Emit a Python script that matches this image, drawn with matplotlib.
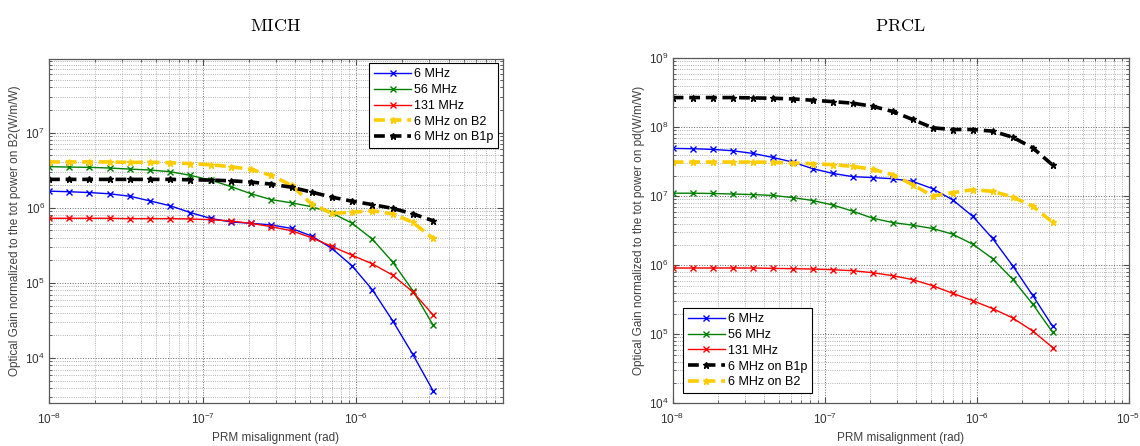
import matplotlib
matplotlib.use('Agg')
import numpy as np
from matplotlib import pyplot as plt
from matplotlib.ticker import LogLocator, LogFormatterSciNotation, NullFormatter

plt.rcParams['font.family'] = ['Liberation Sans', 'DejaVu Sans']
plt.rcParams['mathtext.fontset'] = 'custom'
plt.rcParams['mathtext.rm'] = 'Liberation Sans'
plt.rcParams['mathtext.it'] = 'Liberation Sans:italic'
plt.rcParams['mathtext.bf'] = 'Liberation Sans:bold'

# PRM misalignment steps (rad)
x_rad = [1.000e-8, 1.353e-8, 1.833e-8, 2.481e-8, 3.360e-8, 4.548e-8, 6.158e-8,
         8.338e-8, 1.129e-7, 1.528e-7, 2.069e-7, 2.801e-7, 3.793e-7, 5.135e-7,
         6.952e-7, 9.412e-7, 1.274e-6, 1.725e-6, 2.336e-6, 3.162e-6]

# MICH optical gains (W/m/W)
mich_6 = [1.66e6, 1.63e6, 1.59e6, 1.53e6, 1.42e6, 1.23e6, 1.06e6, 8.6e5, 7.2e5, 6.46e5,
          6.2e5, 5.9e5, 5.3e5, 4.19e5, 2.87e5, 1.68e5, 8.1e4, 3.15e4, 1.12e4, 3.69e3]
mich_56 = [3.51e6, 3.47e6, 3.44e6, 3.37e6, 3.26e6, 3.17e6, 3.01e6, 2.69e6, 2.33e6, 1.91e6,
           1.53e6, 1.28e6, 1.16e6, 1.03e6, 8.5e5, 6.2e5, 3.82e5, 1.90e5, 7.9e4, 2.76e4]
mich_131 = [7.23e5, 7.23e5, 7.23e5, 7.23e5, 7.15e5, 7.15e5, 7.15e5, 7.08e5, 6.93e5, 6.65e5,
            6.19e5, 5.59e5, 4.94e5, 3.98e5, 3.05e5, 2.33e5, 1.79e5, 1.27e5, 7.6e4, 3.76e4]
mich_b2 = [4.06e6, 4.06e6, 4.06e6, 4.06e6, 4.01e6, 4.01e6, 3.97e6, 3.85e6, 3.73e6, 3.51e6,
           3.23e6, 2.69e6, 1.98e6, 1.12e6, 8.4e5, 8.7e5, 9.1e5, 8.3e5, 6.4e5, 3.90e5]
mich_b1p = [2.38e6, 2.38e6, 2.38e6, 2.38e6, 2.38e6, 2.38e6, 2.38e6, 2.35e6, 2.33e6, 2.28e6,
            2.19e6, 2.06e6, 1.87e6, 1.61e6, 1.38e6, 1.22e6, 1.10e6, 9.8e5, 8.3e5, 6.7e5]

# PRCL optical gains (W/m/W)
prcl_6 = [4.95e7, 4.90e7, 4.79e7, 4.58e7, 4.19e7, 3.67e7, 3.14e7, 2.52e7, 2.15e7, 1.93e7,
          1.87e7, 1.80e7, 1.65e7, 1.29e7, 8.9e6, 5.15e6, 2.45e6, 9.9e5, 3.68e5, 1.31e5]
prcl_56 = [1.11e7, 1.11e7, 1.10e7, 1.08e7, 1.06e7, 1.03e7, 9.6e6, 8.7e6, 7.5e6, 6.1e6,
           4.82e6, 4.17e6, 3.82e6, 3.42e6, 2.83e6, 2.03e6, 1.25e6, 6.3e5, 2.75e5, 1.07e5]
prcl_131 = [9.15e5, 9.15e5, 9.15e5, 9.15e5, 9.15e5, 9.04e5, 8.94e5, 8.83e5, 8.64e5, 8.36e5,
            7.82e5, 7.08e5, 6.20e5, 5.07e5, 3.93e5, 3.08e5, 2.36e5, 1.73e5, 1.12e5, 6.44e4]
prcl_b1p = [2.70e8, 2.70e8, 2.70e8, 2.70e8, 2.67e8, 2.64e8, 2.58e8, 2.47e8, 2.36e8, 2.24e8,
            2.02e8, 1.70e8, 1.30e8, 9.85e7, 9.3e7, 9.3e7, 8.8e7, 7.2e7, 5.06e7, 2.84e7]
prcl_b2 = [3.14e7, 3.14e7, 3.14e7, 3.14e7, 3.14e7, 3.11e7, 3.04e7, 2.97e7, 2.88e7, 2.72e7,
           2.46e7, 2.06e7, 1.48e7, 1.01e7, 1.13e7, 1.25e7, 1.18e7, 9.8e6, 7.2e6, 4.22e6]

YELLOW = '#ffcc00'
GREEN = '#008000'


def solid(ax, y, color, label):
    ax.plot(x_rad, y, '-x', color=color, lw=1.0, ms=4, mew=1.0, label=label)


def dashed(ax, y, color, label):
    ax.plot(x_rad, y, '--', color=color, lw=2.6, dashes=(3, 1.6),
            marker='*', ms=5, label=label)


def style_axes(ax, ylabel):
    ax.set_xscale('log')
    ax.set_yscale('log')
    for loc_axis in (ax.xaxis, ax.yaxis):
        loc_axis.set_major_locator(LogLocator(base=10))
        loc_axis.set_minor_locator(LogLocator(base=10, subs=np.arange(2, 10)))
        loc_axis.set_major_formatter(LogFormatterSciNotation())
        loc_axis.set_minor_formatter(NullFormatter())
    ax.grid(True, which='major', ls=':', lw=0.7, color='0.4')
    ax.grid(True, which='minor', ls=':', lw=0.6, color='0.6')
    ax.tick_params(which='both', direction='in', top=True, right=True,
                   labelsize=8.5, color='0.3', labelcolor='0.2')
    ax.tick_params(axis='x', which='major', pad=6)
    ax.tick_params(axis='y', which='major', pad=3)
    ax.tick_params(which='major', length=4)
    ax.tick_params(which='minor', length=2)
    for sp in ax.spines.values():
        sp.set_color('0.35')
        sp.set_linewidth(0.9)
    ax.set_xlabel('PRM misalignment (rad)', fontsize=8.5, color='0.25', labelpad=4)
    ax.set_ylabel(ylabel, fontsize=8.5, color='0.25', labelpad=3)


fig = plt.figure(figsize=(11.4, 4.46), dpi=100)

# MICH
ax1 = fig.add_axes([0.043, 0.0957, 0.398, 0.772])
solid(ax1, mich_6, 'blue', '6 MHz')
solid(ax1, mich_56, GREEN, '56 MHz')
solid(ax1, mich_131, 'red', '131 MHz')
dashed(ax1, mich_b2, YELLOW, '6 MHz on B2')
dashed(ax1, mich_b1p, 'black', '6 MHz on B1p')
style_axes(ax1, 'Optical Gain normalized to the tot power on B2(W/m/W)')
ax1.set_xlim(1e-8, 9e-6)
ax1.set_ylim(2.5e3, 9.5e7)
ax1.set_xticks([1e-8, 1e-7, 1e-6])
ax1.set_yticks([1e4, 1e5, 1e6, 1e7])
ax1.set_title(r'$\mathrm{MICH}$', fontsize=13, math_fontfamily='cm', pad=20)
leg1 = ax1.legend(loc='upper right', fontsize=9, handlelength=3.0, borderaxespad=0.35,
                  fancybox=False, framealpha=1, edgecolor='black', labelspacing=0.3,
                  handletextpad=0.2)
leg1.get_frame().set_linewidth(0.8)

# PRCL
ax2 = fig.add_axes([0.590, 0.0957, 0.400, 0.7735])
solid(ax2, prcl_6, 'blue', '6 MHz')
solid(ax2, prcl_56, GREEN, '56 MHz')
solid(ax2, prcl_131, 'red', '131 MHz')
dashed(ax2, prcl_b1p, 'black', '6 MHz on B1p')
dashed(ax2, prcl_b2, YELLOW, '6 MHz on B2')
style_axes(ax2, 'Optical Gain normalized to the tot power on pd(W/m/W)')
ax2.set_xlim(1e-8, 1e-5)
ax2.set_ylim(1e4, 1e9)
ax2.set_xticks([1e-8, 1e-7, 1e-6, 1e-5])
ax2.set_yticks([1e4, 1e5, 1e6, 1e7, 1e8, 1e9])
ax2.set_title(r'$\mathrm{PRCL}$', fontsize=13, math_fontfamily='cm', pad=20)
leg2 = ax2.legend(loc='lower left', fontsize=9, handlelength=3.0, borderaxespad=0.8,
                  fancybox=False, framealpha=1, edgecolor='black', labelspacing=0.3,
                  handletextpad=0.2)
leg2.get_frame().set_linewidth(0.8)

fig.savefig('out.png', dpi=100)
